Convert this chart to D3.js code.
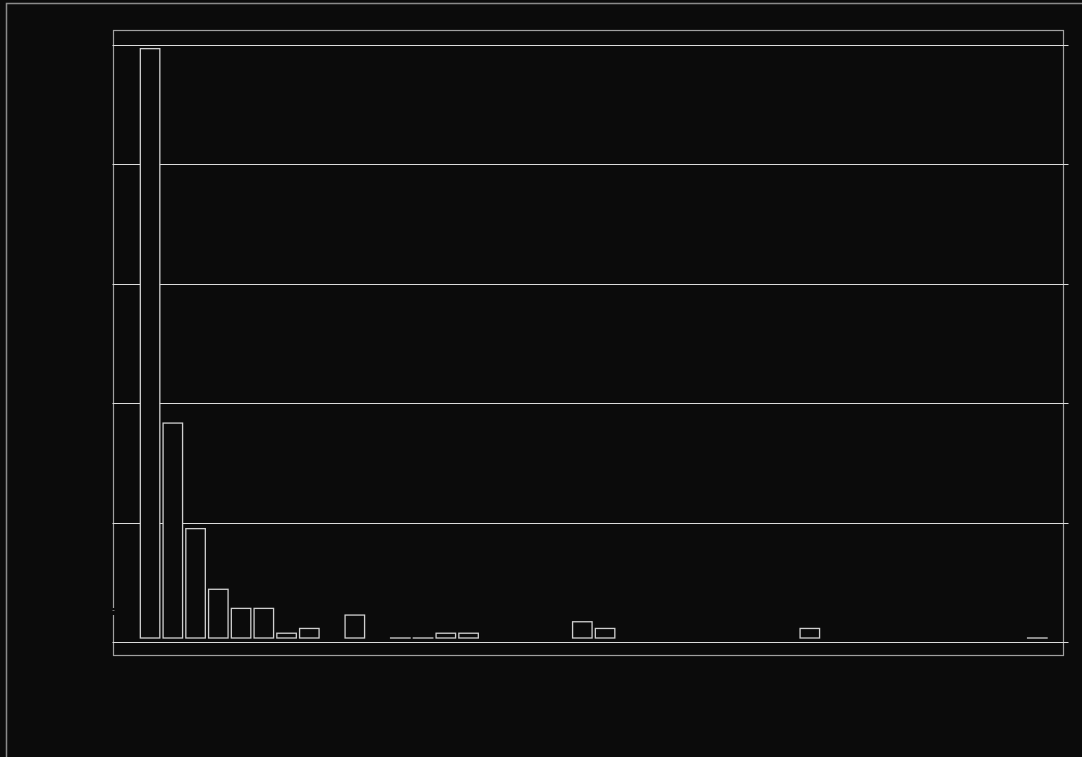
<!DOCTYPE html>
<html>
<head>
<meta charset="utf-8">
<script src="https://cdn.jsdelivr.net/npm/d3@7"></script>
<style>
  html, body { margin: 0; padding: 0; background: #0b0b0b; }
  svg { display: block; }
</style>
</head>
<body>
<div class="container"></div>
<script>
// bin counts (null = empty bin, no bar drawn)
var bins = d3.range(40).map(function(i) { return 'b' + i; });
var counts = [123.4, 45, 22.9, 10.2, 6.2, 6.2, 1, 2, null, 4.8,
  null, 0, 0, 1, 1, null, null, null, null, 3.4,
  2, null, null, null, null, null, null, null, null, 2,
  null, null, null, null, null, null, null, null, null, 0];
var yTicks = [0, 25, 50, 75, 100, 125];

var width = 1082, height = 757;
var svg = d3.select('.container')
  .append('svg')
  .attr('width', width)
  .attr('height', height);

svg.append('rect')
  .attr('width', width)
  .attr('height', height)
  .attr('fill', '#0b0b0b');

// outer border, runs off the right and bottom edges
svg.append('rect')
  .attr('x', 6.5)
  .attr('y', 3.5)
  .attr('width', width)
  .attr('height', height)
  .attr('fill', 'none')
  .attr('stroke', '#8a8a8a')
  .attr('stroke-width', 1.5);

var x = d3.scaleBand()
  .domain(bins)
  .range([138.7, 1048.7])
  .paddingInner(0.143)
  .paddingOuter(0.0715);

var y = d3.scaleLinear()
  .domain([0, 125])
  .range([642, 45]);

// plot frame
svg.append('rect')
  .attr('x', 113.5)
  .attr('y', 30.5)
  .attr('width', 950)
  .attr('height', 625)
  .attr('fill', 'none')
  .attr('stroke', '#a0a0a0')
  .attr('stroke-width', 1.2);

// little break in the left side of the frame
svg.append('rect')
  .attr('x', 111)
  .attr('y', 608)
  .attr('width', 5)
  .attr('height', 7)
  .attr('fill', '#0b0b0b');
svg.append('line')
  .attr('x1', 112.5).attr('x2', 114.5)
  .attr('y1', 610.5).attr('y2', 610.5)
  .attr('stroke', '#777');

var grid = svg.append('g').attr('class', 'grid');
grid.selectAll('line')
  .data(yTicks)
  .enter()
  .append('line')
  .attr('x1', 112.5)
  .attr('x2', 1068.5)
  .attr('y1', function(d) { return Math.round(y(d)) + 0.5; })
  .attr('y2', function(d) { return Math.round(y(d)) + 0.5; })
  .attr('stroke', '#dcdcdc')
  .attr('stroke-width', 1);

var data = bins.map(function(b, i) { return { bin: b, v: counts[i] }; })
  .filter(function(d) { return d.v !== null; });

// bars sit 4px above the zero line
var barG = svg.append('g').attr('class', 'bars');
barG.selectAll('rect')
  .data(data)
  .enter()
  .append('rect')
  .attr('x', function(d) { return x(d.bin); })
  .attr('width', x.bandwidth())
  .attr('y', function(d) { return y(d.v) - 4; })
  .attr('height', function(d) { return Math.max(y(0) - y(d.v), 0.01); })
  .attr('fill', '#0b0b0b')
  .attr('stroke', '#cfcfcf')
  .attr('stroke-width', 1.3);
</script>
</body>
</html>
